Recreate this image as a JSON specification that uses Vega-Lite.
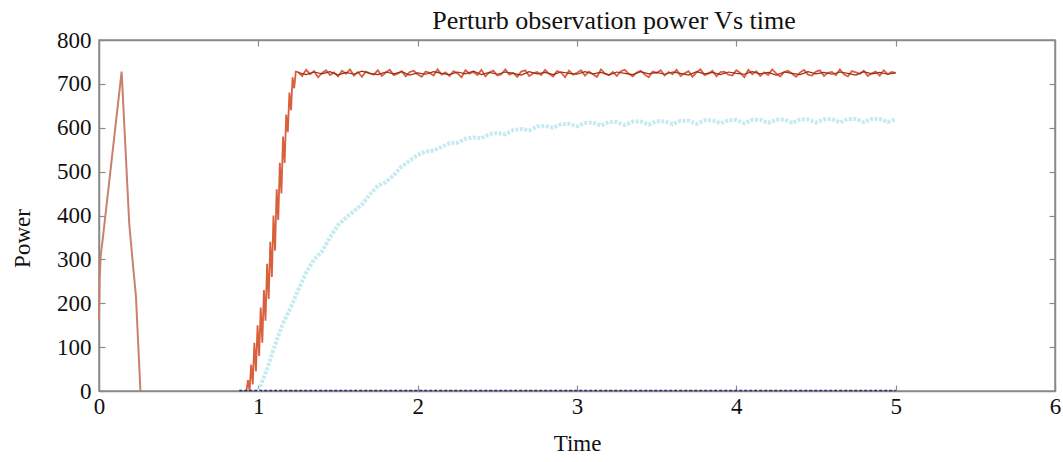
{
  "$schema": "https://vega.github.io/schema/vega-lite/v6.json",
  "width": 956,
  "height": 351,
  "autosize": "none",
  "padding": {"left": 99, "top": 40, "right": 8, "bottom": 71},
  "background": "white",
  "title": {"text": "Perturb observation power Vs time", "font": "Liberation Serif", "fontSize": 26, "fontWeight": "normal", "color": "#111", "frame": "group", "anchor": "middle", "dx": 37, "offset": -26, "baseline": "alphabetic"},
  "config": {
    "view": {"stroke": "#8a8a8a", "strokeWidth": 1.5},
    "axis": {"labelFont": "Liberation Serif", "titleFont": "Liberation Serif", "labelFontSize": 23, "titleFontSize": 23, "titleFontWeight": "normal", "labelColor": "#111", "titleColor": "#111", "grid": false, "domainColor": "#8a8a8a", "domainWidth": 1.5, "tickColor": "#8a8a8a", "tickWidth": 1.2, "tickSize": -6}
  },
  "data": {"values": [
    {"s":"n","t":0.88,"p":1},{"s":"n","t":5.0,"p":1},
    {"s":"a","t":0,"p":160},{"s":"a","t":0.004,"p":255},{"s":"a","t":0.011,"p":310},{"s":"a","t":0.023,"p":345},{"s":"a","t":0.075,"p":512},{"s":"a","t":0.142,"p":728},{"s":"a","t":0.19,"p":380},{"s":"a","t":0.21,"p":300},{"s":"a","t":0.232,"p":215},{"s":"a","t":0.26,"p":0},
    {"s":"c","t":1.0,"p":0},{"s":"c","t":1.05,"p":45},{"s":"c","t":1.1,"p":100},{"s":"c","t":1.15,"p":150},{"s":"c","t":1.2,"p":188},{"s":"c","t":1.25,"p":230},{"s":"c","t":1.3,"p":270},{"s":"c","t":1.35,"p":300},{"s":"c","t":1.4,"p":318},{"s":"c","t":1.45,"p":350},{"s":"c","t":1.5,"p":378},{"s":"c","t":1.55,"p":395},{"s":"c","t":1.6,"p":410},{"s":"c","t":1.65,"p":425},{"s":"c","t":1.7,"p":448},{"s":"c","t":1.75,"p":468},{"s":"c","t":1.8,"p":476},{"s":"c","t":1.85,"p":492},{"s":"c","t":1.9,"p":512},{"s":"c","t":1.95,"p":525},{"s":"c","t":2.0,"p":538},{"s":"c","t":2.05,"p":546},{"s":"c","t":2.1,"p":548},{"s":"c","t":2.15,"p":556},{"s":"c","t":2.2,"p":565},{"s":"c","t":2.25,"p":566},{"s":"c","t":2.3,"p":575},{"s":"c","t":2.35,"p":578},{"s":"c","t":2.4,"p":576},{"s":"c","t":2.45,"p":586},{"s":"c","t":2.5,"p":588},{"s":"c","t":2.55,"p":585},{"s":"c","t":2.6,"p":595},{"s":"c","t":2.65,"p":597},{"s":"c","t":2.7,"p":594},{"s":"c","t":2.75,"p":603},{"s":"c","t":2.8,"p":604},{"s":"c","t":2.85,"p":600},{"s":"c","t":2.9,"p":608},{"s":"c","t":2.95,"p":609},{"s":"c","t":3.0,"p":603},{"s":"c","t":3.05,"p":611},{"s":"c","t":3.1,"p":612},{"s":"c","t":3.15,"p":605},{"s":"c","t":3.2,"p":613},{"s":"c","t":3.25,"p":613},{"s":"c","t":3.3,"p":606},{"s":"c","t":3.35,"p":614},{"s":"c","t":3.4,"p":614},{"s":"c","t":3.45,"p":607},{"s":"c","t":3.5,"p":615},{"s":"c","t":3.55,"p":615},{"s":"c","t":3.6,"p":608},{"s":"c","t":3.65,"p":616},{"s":"c","t":3.7,"p":616},{"s":"c","t":3.75,"p":609},{"s":"c","t":3.8,"p":617},{"s":"c","t":3.85,"p":617},{"s":"c","t":3.9,"p":610},{"s":"c","t":3.95,"p":617},{"s":"c","t":4.0,"p":618},{"s":"c","t":4.05,"p":610},{"s":"c","t":4.1,"p":618},{"s":"c","t":4.15,"p":618},{"s":"c","t":4.2,"p":611},{"s":"c","t":4.25,"p":618},{"s":"c","t":4.3,"p":619},{"s":"c","t":4.35,"p":611},{"s":"c","t":4.4,"p":619},{"s":"c","t":4.45,"p":619},{"s":"c","t":4.5,"p":612},{"s":"c","t":4.55,"p":619},{"s":"c","t":4.6,"p":620},{"s":"c","t":4.65,"p":612},{"s":"c","t":4.7,"p":620},{"s":"c","t":4.75,"p":620},{"s":"c","t":4.8,"p":613},{"s":"c","t":4.85,"p":620},{"s":"c","t":4.9,"p":620},{"s":"c","t":4.95,"p":613},{"s":"c","t":5.0,"p":619},
    {"s":"o","t":0.925,"p":0},{"s":"o","t":0.935,"p":25},{"s":"o","t":0.945,"p":0},{"s":"o","t":0.955,"p":60},{"s":"o","t":0.965,"p":15},{"s":"o","t":0.975,"p":110},{"s":"o","t":0.985,"p":45},{"s":"o","t":0.995,"p":150},{"s":"o","t":1.005,"p":80},{"s":"o","t":1.015,"p":190},{"s":"o","t":1.025,"p":110},{"s":"o","t":1.035,"p":230},{"s":"o","t":1.045,"p":160},{"s":"o","t":1.055,"p":290},{"s":"o","t":1.065,"p":210},{"s":"o","t":1.075,"p":340},{"s":"o","t":1.085,"p":260},{"s":"o","t":1.095,"p":400},{"s":"o","t":1.105,"p":320},{"s":"o","t":1.115,"p":460},{"s":"o","t":1.125,"p":390},{"s":"o","t":1.135,"p":520},{"s":"o","t":1.145,"p":450},{"s":"o","t":1.155,"p":580},{"s":"o","t":1.165,"p":520},{"s":"o","t":1.175,"p":630},{"s":"o","t":1.185,"p":590},{"s":"o","t":1.195,"p":680},{"s":"o","t":1.205,"p":640},{"s":"o","t":1.215,"p":715},{"s":"o","t":1.225,"p":690},{"s":"o","t":1.235,"p":728},
    {"s":"o","t":1.25,"p":727},{"s":"o","t":1.275,"p":718},{"s":"o","t":1.3,"p":732},{"s":"o","t":1.325,"p":722},{"s":"o","t":1.35,"p":729},{"s":"o","t":1.375,"p":715},{"s":"o","t":1.4,"p":725},{"s":"o","t":1.425,"p":731},{"s":"o","t":1.45,"p":720},{"s":"o","t":1.475,"p":726},{"s":"o","t":1.5,"p":717},{"s":"o","t":1.525,"p":730},{"s":"o","t":1.55,"p":723},{"s":"o","t":1.575,"p":733},{"s":"o","t":1.6,"p":719},{"s":"o","t":1.625,"p":727},{"s":"o","t":1.65,"p":716},{"s":"o","t":1.675,"p":728},{"s":"o","t":1.7,"p":724},{"s":"o","t":1.725,"p":721},{"s":"o","t":1.75,"p":731},{"s":"o","t":1.775,"p":718},{"s":"o","t":1.8,"p":726},{"s":"o","t":1.825,"p":732},{"s":"o","t":1.85,"p":720},{"s":"o","t":1.875,"p":723},{"s":"o","t":1.9,"p":729},{"s":"o","t":1.925,"p":717},{"s":"o","t":1.95,"p":727},{"s":"o","t":1.975,"p":730},{"s":"o","t":2.0,"p":722},{"s":"o","t":2.025,"p":716},{"s":"o","t":2.05,"p":728},{"s":"o","t":2.075,"p":725},{"s":"o","t":2.1,"p":719},{"s":"o","t":2.125,"p":733},{"s":"o","t":2.15,"p":721},{"s":"o","t":2.175,"p":726},{"s":"o","t":2.2,"p":718},{"s":"o","t":2.225,"p":729},{"s":"o","t":2.25,"p":724},{"s":"o","t":2.275,"p":715},{"s":"o","t":2.3,"p":731},{"s":"o","t":2.325,"p":723},{"s":"o","t":2.35,"p":727},{"s":"o","t":2.375,"p":720},{"s":"o","t":2.4,"p":732},{"s":"o","t":2.425,"p":717},{"s":"o","t":2.45,"p":726},{"s":"o","t":2.475,"p":730},{"s":"o","t":2.5,"p":719},{"s":"o","t":2.525,"p":722},{"s":"o","t":2.55,"p":733},{"s":"o","t":2.575,"p":721},{"s":"o","t":2.6,"p":725},{"s":"o","t":2.625,"p":716},{"s":"o","t":2.65,"p":728},{"s":"o","t":2.675,"p":731},{"s":"o","t":2.7,"p":718},{"s":"o","t":2.725,"p":724},{"s":"o","t":2.75,"p":727},{"s":"o","t":2.775,"p":720},{"s":"o","t":2.8,"p":732},{"s":"o","t":2.825,"p":723},{"s":"o","t":2.85,"p":717},{"s":"o","t":2.875,"p":729},{"s":"o","t":2.9,"p":726},{"s":"o","t":2.925,"p":715},{"s":"o","t":2.95,"p":730},{"s":"o","t":2.975,"p":721},{"s":"o","t":3.0,"p":725},{"s":"o","t":3.025,"p":731},{"s":"o","t":3.05,"p":719},{"s":"o","t":3.075,"p":728},{"s":"o","t":3.1,"p":722},{"s":"o","t":3.125,"p":716},{"s":"o","t":3.15,"p":733},{"s":"o","t":3.175,"p":724},{"s":"o","t":3.2,"p":720},{"s":"o","t":3.225,"p":727},{"s":"o","t":3.25,"p":718},{"s":"o","t":3.275,"p":729},{"s":"o","t":3.3,"p":732},{"s":"o","t":3.325,"p":723},{"s":"o","t":3.35,"p":717},{"s":"o","t":3.375,"p":726},{"s":"o","t":3.4,"p":730},{"s":"o","t":3.425,"p":721},{"s":"o","t":3.45,"p":715},{"s":"o","t":3.475,"p":728},{"s":"o","t":3.5,"p":725},{"s":"o","t":3.525,"p":731},{"s":"o","t":3.55,"p":719},{"s":"o","t":3.575,"p":727},{"s":"o","t":3.6,"p":722},{"s":"o","t":3.625,"p":732},{"s":"o","t":3.65,"p":718},{"s":"o","t":3.675,"p":724},{"s":"o","t":3.7,"p":729},{"s":"o","t":3.725,"p":716},{"s":"o","t":3.75,"p":726},{"s":"o","t":3.775,"p":733},{"s":"o","t":3.8,"p":720},{"s":"o","t":3.825,"p":723},{"s":"o","t":3.85,"p":730},{"s":"o","t":3.875,"p":717},{"s":"o","t":3.9,"p":727},{"s":"o","t":3.925,"p":728},{"s":"o","t":3.95,"p":721},{"s":"o","t":3.975,"p":719},{"s":"o","t":4.0,"p":731},{"s":"o","t":4.025,"p":725},{"s":"o","t":4.05,"p":715},{"s":"o","t":4.075,"p":732},{"s":"o","t":4.1,"p":722},{"s":"o","t":4.125,"p":729},{"s":"o","t":4.15,"p":718},{"s":"o","t":4.175,"p":726},{"s":"o","t":4.2,"p":720},{"s":"o","t":4.225,"p":733},{"s":"o","t":4.25,"p":724},{"s":"o","t":4.275,"p":717},{"s":"o","t":4.3,"p":727},{"s":"o","t":4.325,"p":730},{"s":"o","t":4.35,"p":723},{"s":"o","t":4.375,"p":716},{"s":"o","t":4.4,"p":726},{"s":"o","t":4.425,"p":732},{"s":"o","t":4.45,"p":721},{"s":"o","t":4.475,"p":719},{"s":"o","t":4.5,"p":728},{"s":"o","t":4.525,"p":731},{"s":"o","t":4.55,"p":718},{"s":"o","t":4.575,"p":725},{"s":"o","t":4.6,"p":727},{"s":"o","t":4.625,"p":720},{"s":"o","t":4.65,"p":733},{"s":"o","t":4.675,"p":722},{"s":"o","t":4.7,"p":717},{"s":"o","t":4.725,"p":729},{"s":"o","t":4.75,"p":726},{"s":"o","t":4.775,"p":723},{"s":"o","t":4.8,"p":730},{"s":"o","t":4.825,"p":718},{"s":"o","t":4.85,"p":724},{"s":"o","t":4.875,"p":728},{"s":"o","t":4.9,"p":719},{"s":"o","t":4.925,"p":731},{"s":"o","t":4.95,"p":722},{"s":"o","t":4.975,"p":727},{"s":"o","t":5.0,"p":725},
    {"s":"d","t":1.25,"p":726},{"s":"d","t":1.3,"p":721},{"s":"d","t":1.35,"p":727},{"s":"d","t":1.4,"p":723},{"s":"d","t":1.45,"p":728},{"s":"d","t":1.5,"p":720},{"s":"d","t":1.55,"p":726},{"s":"d","t":1.6,"p":722},{"s":"d","t":1.65,"p":729},{"s":"d","t":1.7,"p":724},{"s":"d","t":1.75,"p":721},{"s":"d","t":1.8,"p":727},{"s":"d","t":1.85,"p":723},{"s":"d","t":1.9,"p":728},{"s":"d","t":1.95,"p":720},{"s":"d","t":2.0,"p":725},{"s":"d","t":2.05,"p":722},{"s":"d","t":2.1,"p":728},{"s":"d","t":2.15,"p":724},{"s":"d","t":2.2,"p":721},{"s":"d","t":2.25,"p":727},{"s":"d","t":2.3,"p":723},{"s":"d","t":2.35,"p":729},{"s":"d","t":2.4,"p":721},{"s":"d","t":2.45,"p":726},{"s":"d","t":2.5,"p":722},{"s":"d","t":2.55,"p":727},{"s":"d","t":2.6,"p":724},{"s":"d","t":2.65,"p":720},{"s":"d","t":2.7,"p":728},{"s":"d","t":2.75,"p":723},{"s":"d","t":2.8,"p":726},{"s":"d","t":2.85,"p":721},{"s":"d","t":2.9,"p":727},{"s":"d","t":2.95,"p":724},{"s":"d","t":3.0,"p":722},{"s":"d","t":3.05,"p":728},{"s":"d","t":3.1,"p":723},{"s":"d","t":3.15,"p":726},{"s":"d","t":3.2,"p":720},{"s":"d","t":3.25,"p":727},{"s":"d","t":3.3,"p":724},{"s":"d","t":3.35,"p":721},{"s":"d","t":3.4,"p":728},{"s":"d","t":3.45,"p":723},{"s":"d","t":3.5,"p":726},{"s":"d","t":3.55,"p":722},{"s":"d","t":3.6,"p":727},{"s":"d","t":3.65,"p":724},{"s":"d","t":3.7,"p":720},{"s":"d","t":3.75,"p":728},{"s":"d","t":3.8,"p":723},{"s":"d","t":3.85,"p":726},{"s":"d","t":3.9,"p":721},{"s":"d","t":3.95,"p":727},{"s":"d","t":4.0,"p":724},{"s":"d","t":4.05,"p":722},{"s":"d","t":4.1,"p":728},{"s":"d","t":4.15,"p":723},{"s":"d","t":4.2,"p":726},{"s":"d","t":4.25,"p":720},{"s":"d","t":4.3,"p":727},{"s":"d","t":4.35,"p":724},{"s":"d","t":4.4,"p":721},{"s":"d","t":4.45,"p":728},{"s":"d","t":4.5,"p":723},{"s":"d","t":4.55,"p":726},{"s":"d","t":4.6,"p":722},{"s":"d","t":4.65,"p":727},{"s":"d","t":4.7,"p":724},{"s":"d","t":4.75,"p":720},{"s":"d","t":4.8,"p":728},{"s":"d","t":4.85,"p":723},{"s":"d","t":4.9,"p":726},{"s":"d","t":4.95,"p":722},{"s":"d","t":5.0,"p":725}
  ]},
  "resolve": {"axis": {"x": "independent", "y": "independent"}},
  "layer": [
    {
      "transform": [{"filter": "datum.s == 'a'"}],
      "mark": {"type": "line", "color": "#c9806e", "strokeWidth": 2},
      "encoding": {
        "x": {"field": "t", "type": "quantitative", "scale": {"domain": [0, 6], "nice": false}, "axis": {"orient": "bottom", "title": "Time", "values": [0,1,2,3,4,5,6], "labelFont": "Liberation Serif", "labelPadding": 10, "titlePadding": 14, "labelFlush": false}},
        "y": {"field": "p", "type": "quantitative", "scale": {"domain": [0, 800], "nice": false}, "axis": {"orient": "left", "title": "Power", "values": [0,100,200,300,400,500,600,700,800], "labelFont": "Liberation Serif", "labelPadding": 14, "titlePadding": 22, "titleY": 198}}
      }
    },
    {
      "transform": [{"filter": "datum.s == 'c'"}],
      "mark": {"type": "line", "color": "#c4ebf1", "strokeWidth": 4, "strokeDash": [3, 1.5]},
      "encoding": {
        "x": {"field": "t", "type": "quantitative", "axis": null},
        "y": {"field": "p", "type": "quantitative", "axis": null}
      }
    },
    {
      "transform": [{"filter": "datum.s == 'o'"}],
      "mark": {"type": "line", "color": "#d9603c", "strokeWidth": 1.8},
      "encoding": {
        "x": {"field": "t", "type": "quantitative", "axis": null},
        "y": {"field": "p", "type": "quantitative", "axis": null}
      }
    },
    {
      "transform": [{"filter": "datum.s == 'd'"}],
      "mark": {"type": "line", "color": "#9a2c1c", "strokeWidth": 1.2},
      "encoding": {
        "x": {"field": "t", "type": "quantitative", "axis": null},
        "y": {"field": "p", "type": "quantitative", "axis": null}
      }
    },
    {
      "transform": [{"filter": "datum.s == 'n'"}],
      "mark": {"type": "line", "color": "#2b2b7a", "strokeWidth": 1.5, "strokeDash": [3, 2]},
      "encoding": {
        "x": {"field": "t", "type": "quantitative", "axis": {"orient": "top", "title": null, "labels": false, "values": [1,2,3,4,5]}},
        "y": {"field": "p", "type": "quantitative", "axis": {"orient": "right", "title": null, "labels": false, "values": [100,200,300,400,500,600,700]}}
      }
    }
  ]
}
